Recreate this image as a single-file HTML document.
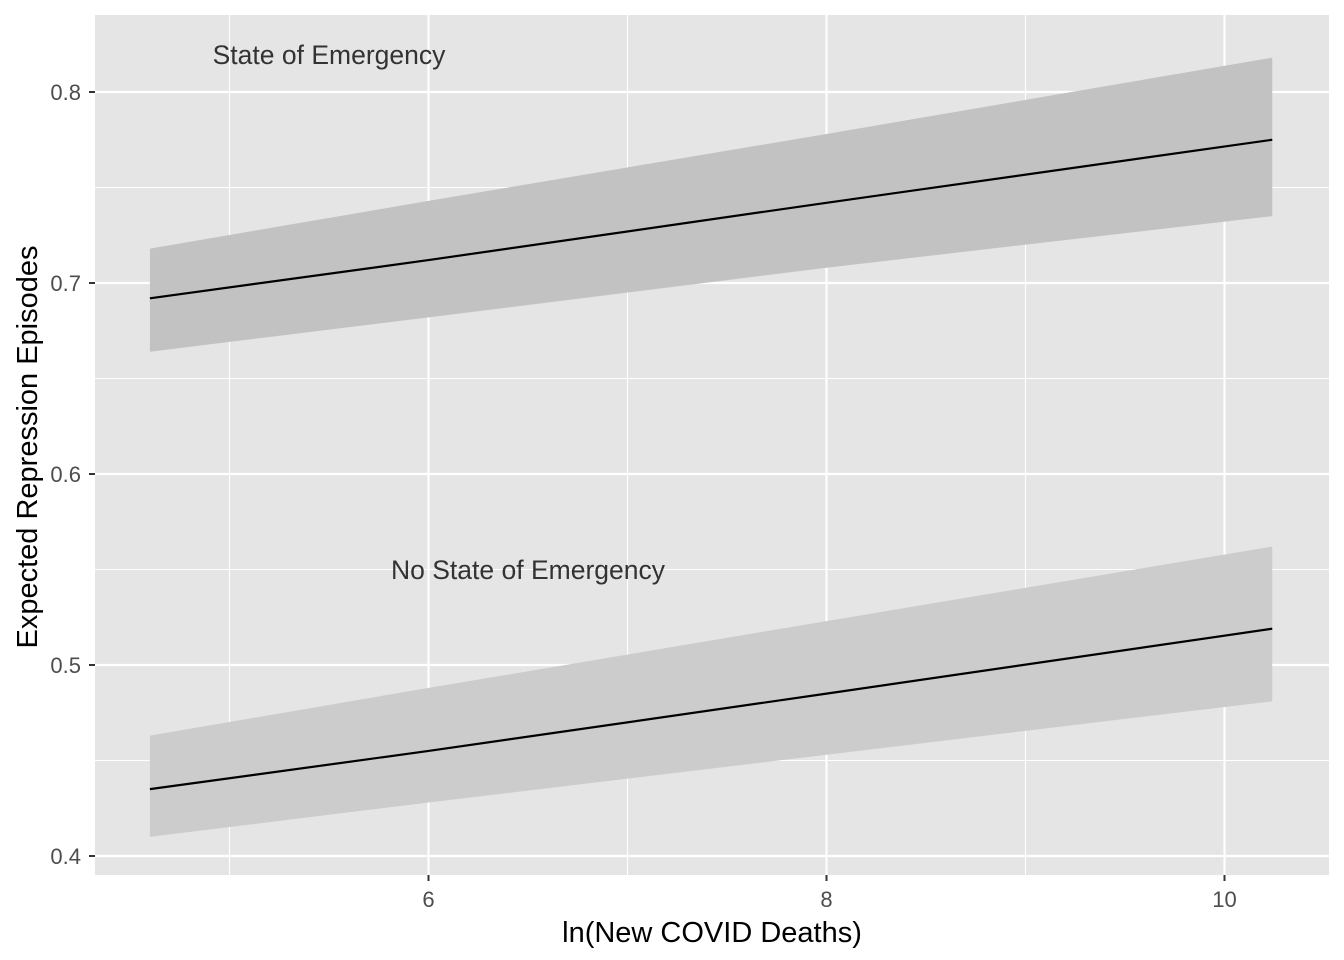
<!DOCTYPE html>
<html><head><meta charset="utf-8"><style>
body{margin:0;background:#fff}
svg{display:block;font-family:"Liberation Sans",Arial,sans-serif}
</style></head><body>
<svg id="chart" width="1344" height="960">
<rect x="95" y="15" width="1234" height="860" fill="#e5e5e5"/>
<g id="grid"></g><g id="series"></g><g id="axes"></g>
<text x="329" y="64" font-size="26.5" fill="#333" text-anchor="middle">State of Emergency</text>
<text x="528" y="579" font-size="26.5" fill="#333" text-anchor="middle">No State of Emergency</text>
<text x="712" y="942" font-size="29" fill="#000" text-anchor="middle">ln(New COVID Deaths)</text>
<text transform="translate(37,447) rotate(-90)" font-size="29" fill="#000" text-anchor="middle">Expected Repression Episodes</text>
</svg>
<script>
const xs=[4.6,6,8,10.24];
const soeUpper=[0.718,0.743,0.778,0.818];
const soeFit=[0.692,0.712,0.742,0.775];
const soeLower=[0.664,0.682,0.708,0.735];
const noUpper=[0.463,0.488,0.523,0.562];
const noFit=[0.435,0.455,0.485,0.519];
const noLower=[0.410,0.428,0.453,0.481];
const xTicks=[6,8,10];
const yTicks=[0.4,0.5,0.6,0.7,0.8];
const X=v=>428.5+(v-6)*199;
const Y=v=>856-(v-0.4)*1910;
const NS="http://www.w3.org/2000/svg";
function mk(t,a,p){const e=document.createElementNS(NS,t);for(const k in a)e.setAttribute(k,a[k]);p.appendChild(e);return e;}
const grid=document.getElementById('grid'),ser=document.getElementById('series'),ax=document.getElementById('axes');
for(let v=5;v<=10;v+=1){const g=mk('line',{x1:X(v),x2:X(v),y1:15,y2:875,stroke:'#fff','stroke-width':v%2?1.1:2.2},grid);

}
for(let v=0.4;v<=0.851;v+=0.05){const g=mk('line',{x1:95,x2:1329,y1:Y(v),y2:Y(v),stroke:'#fff','stroke-width':Math.round(v*100)%10?1.1:2.2},grid);

}
function band(up,lo,fill,name){let d=xs.map((x,i)=>(i?'L':'M')+X(x)+','+Y(up[i])).join('')+xs.slice().reverse().map((x,j)=>'L'+X(x)+','+Y(lo[xs.length-1-j])).join('')+'Z';
const p=mk('path',{d:d,fill:fill},ser);

}
function line(f,name){const p=mk('polyline',{points:xs.map((x,i)=>X(x)+','+Y(f[i])).join(' '),fill:'none',stroke:'#000','stroke-width':2.2},ser);

}
band(soeUpper,soeLower,'#c2c2c2','soe-confidence-band');
band(noUpper,noLower,'#cccccc','no-soe-confidence-band');
line(soeFit,'soe-fit-line');line(noFit,'no-soe-fit-line');
xTicks.forEach(v=>{mk('line',{x1:X(v),x2:X(v),y1:875,y2:881,stroke:'#333','stroke-width':2},ax);
const t=mk('text',{x:X(v),y:907,'font-size':22,fill:'#4d4d4d','text-anchor':'middle'},ax);t.textContent=v;

});
yTicks.forEach(v=>{mk('line',{x1:89,x2:95,y1:Y(v),y2:Y(v),stroke:'#333','stroke-width':2},ax);
const t=mk('text',{x:81,y:Y(v)+8,'font-size':22,fill:'#4d4d4d','text-anchor':'end'},ax);t.textContent=v.toFixed(1);

});
</script>
</body></html>
